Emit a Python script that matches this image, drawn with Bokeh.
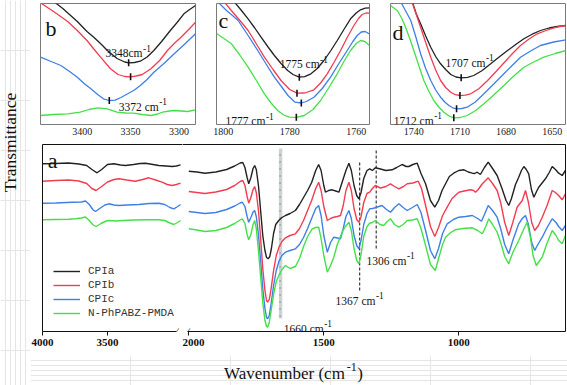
import math
from bokeh.plotting import figure
from bokeh.models import Range1d, FixedTicker, LinearAxis, Label, Legend, LegendItem
from bokeh.layouts import row, column
from bokeh.embed import file_html
from bokeh.resources import INLINE

SERIES = ["CPIa", "CPIb", "CPIc", "N-PhPABZ-PMDA"]
COLORS = ["#222222", "#f23c52", "#3f7fe6", "#45e048"]
FONT = "Liberation Serif"

# ---------------- panel a : left segment (4000-2940 cm-1) ----------------
aL_black = [(4000,166.7),(3900,167),(3800,167.5),(3720,166.5),(3660,165),(3620,161),(3580,157.7),(3545,161),(3500,166),(3452,166.7),(3400,165.5),(3362,165),(3300,166),(3250,167),(3208,167.3),(3150,166),(3105,165),(3050,164.5),(3003,164),(2970,164.5),(2938,165.7)]
aL_red = [(4000,149.3),(3900,150),(3800,150.5),(3720,149.5),(3660,147),(3620,142),(3588,140),(3550,143.5),(3500,148.5),(3450,151),(3413,151.7),(3350,150.5),(3285,149.3),(3230,151),(3182,152.7),(3130,150.5),(3080,148.3),(3040,146),(3003,145),(2970,146),(2938,147.3)]
aL_blue = [(4000,127.3),(3900,127.5),(3772,128.3),(3700,128.5),(3669,129.5),(3640,126),(3610,120.5),(3592,119),(3560,122),(3520,125.5),(3490,126.7),(3450,125.5),(3413,125),(3350,125.5),(3259,126),(3180,127),(3105,127.3),(3060,126),(3020,123),(2990,121.7),(2960,124),(2938,126)]
aL_green = [(4000,110.7),(3900,111),(3800,111.3),(3746,111.7),(3700,112.5),(3669,113.5),(3640,110),(3610,105.5),(3588,104),(3550,107),(3510,109.5),(3490,110),(3440,109.5),(3380,110),(3300,110.5),(3200,110.7),(3105,110.7),(3060,110),(3020,107.5),(2990,106),(2960,108),(2938,110)]

# ---------------- panel a : right segment (2000-600 cm-1) ----------------
aR_black = [(2000,159.3),(1970,158.5),(1940,157.3),(1900,158.5),(1860,161),(1830,164.5),(1810,167.5),(1800,168),(1792,163),(1784,153),(1778,146.7),(1770,153),(1762,162),(1756,165),(1750,161),(1742,145),(1734,120),(1726,95),(1718,80),(1712,73),(1706,71.7),(1700,74),(1694,82),(1686,97),(1678,106),(1667,110),(1655,113),(1642,115),(1625,117),(1605,120),(1590,126),(1575,133),(1560,140),(1545,148),(1530,160),(1519,166),(1510,160),(1500,145),(1494,138.3),(1482,140),(1469,140.7),(1456,139.5),(1444,138.3),(1430,150),(1418,160),(1407,167.3),(1398,160),(1388,145),(1378,135),(1370,131.7),(1362,138),(1352,152),(1340,160),(1330,161.7),(1320,160),(1309,162.7),(1290,161.5),(1270,160),(1247,160.7),(1230,163),(1210,166),(1195,164),(1185,164),(1170,166),(1154,167.3),(1140,157),(1123,146.7),(1105,130),(1089,123.3),(1075,130),(1062,140),(1049,146.7),(1035,154),(1019,157.3),(1000,160),(981,160.7),(965,158.5),(950,157.3),(941,157),(932,158.3),(920,156),(905,163),(891,168.3),(875,162),(858,155),(840,142),(825,130),(815,125),(805,132),(790,146),(778,153.3),(768,160),(759,164),(750,161),(741,156.7),(731,141),(722,133.3),(712,139),(704,143.3),(690,148),(679,151.7),(665,158),(654,164),(642,161),(630,157.3),(617,155),(605,160)]
aR_red = [(2000,139),(1970,138),(1940,137),(1900,138.5),(1860,141),(1830,145),(1810,149),(1800,150),(1792,145),(1784,134),(1778,127.3),(1770,133),(1762,141),(1756,144),(1750,138),(1742,120),(1734,92),(1726,62),(1718,40),(1712,30),(1708,28.3),(1702,31),(1695,42),(1686,60),(1676,75),(1665,84),(1655,89),(1642,92.7),(1625,95),(1605,96.7),(1590,102),(1575,110),(1560,120),(1545,130),(1530,142),(1519,148.3),(1510,140),(1500,124),(1487,110),(1475,112),(1463,113.3),(1450,114),(1438,115),(1428,125),(1418,140),(1407,148.3),(1398,140),(1388,122),(1378,111),(1370,108.3),(1362,114),(1352,128),(1340,137),(1330,138.3),(1320,142),(1309,145),(1290,142.5),(1270,144),(1253,146.7),(1238,144),(1222,141.7),(1205,144),(1191,146.7),(1170,147.5),(1150,149.3),(1138,142),(1123,125),(1105,104),(1089,94),(1075,103),(1060,115),(1043,123.3),(1025,132),(1000,138.3),(980,139.5),(957,140.7),(945,140),(938,138.3),(928,141),(915,146),(891,152.7),(875,147),(858,140),(845,128),(830,108),(815,95),(800,108),(784,123.3),(765,130),(753,140),(742,128),(730,108),(719,100),(705,105),(691,113.3),(673,125),(654,140),(642,138),(630,135),(617,130.7),(605,136.7)]
aR_blue = [(2000,119),(1970,118),(1940,117),(1900,118),(1860,121),(1830,124.5),(1810,127.5),(1802,128.3),(1792,124),(1784,114),(1778,108.3),(1770,113),(1762,118.5),(1756,120),(1750,114),(1742,96),(1734,70),(1726,42),(1718,22),(1712,13),(1708,11.7),(1702,15),(1695,27),(1686,45),(1676,60),(1665,70),(1655,75),(1642,78.3),(1625,80),(1605,81.7),(1590,86),(1575,93),(1560,102),(1545,112),(1530,122),(1519,125),(1510,115),(1500,95),(1487,78.3),(1475,88),(1463,93.3),(1450,92.5),(1438,91.7),(1428,102),(1418,114),(1407,120),(1398,112),(1388,95),(1378,85),(1370,81.7),(1362,90),(1352,106),(1340,117),(1330,121.7),(1320,122),(1309,122.7),(1296,124),(1284,125),(1268,121),(1253,118.3),(1238,123),(1222,126.7),(1206,123),(1191,120),(1172,123),(1154,126),(1140,118),(1123,100),(1105,80),(1089,71.7),(1075,82),(1060,97),(1043,106.7),(1020,111),(1000,113.3),(975,114),(950,115),(930,112),(916,109.3),(905,116),(891,125),(875,120),(858,113.3),(845,102),(830,86),(815,76.7),(800,90),(778,106.7),(765,112),(753,115),(742,106),(730,88),(719,80),(705,87),(691,93.3),(673,103),(654,111.7),(640,108),(630,104),(617,100),(605,105)]
aR_green = [(2000,101.7),(1970,100.5),(1940,99),(1900,100),(1860,103),(1830,107),(1810,110.5),(1802,111.7),(1792,107),(1784,96),(1778,90.7),(1770,96),(1762,106),(1756,110),(1750,102),(1742,80),(1734,54),(1726,28),(1718,10),(1712,4),(1708,3.3),(1702,8),(1695,20),(1686,36),(1676,49),(1665,56),(1655,61),(1642,65),(1625,62),(1605,64),(1590,72),(1575,84),(1560,94),(1543,101.7),(1530,103),(1519,103.3),(1510,92),(1500,75),(1487,58.3),(1475,65),(1463,73.3),(1450,86),(1432,98.3),(1420,104),(1407,108.3),(1398,100),(1388,82),(1378,70),(1370,66.7),(1362,76),(1352,94),(1340,104),(1330,107.3),(1320,108),(1309,110),(1292,106),(1278,105),(1265,109),(1253,111.7),(1238,106),(1222,103.3),(1206,106),(1191,110),(1172,110.5),(1154,111.7),(1140,102),(1123,85),(1105,66),(1087,60),(1075,72),(1060,86),(1049,93.3),(1030,98),(1013,100.7),(985,102),(950,102.7),(930,100),(913,96.7),(900,104),(889,111.7),(875,106),(858,98.3),(845,88),(830,74),(815,66.7),(800,78),(778,90),(760,101),(747,108.3),(735,93.3),(725,75),(713,65),(700,70),(691,73.3),(675,86),(654,100),(640,95),(630,90),(617,86.7),(605,95)]

# ---------------- inset b (N-H region) ----------------
b_black = [(3432,126),(3420,117),(3405,104),(3395,94),(3388,88.3),(3380,81),(3374,75),(3364,67),(3356,63.5),(3352,62.7),(3346,63),(3340,64.3),(3333,68.5),(3326,75),(3318,84),(3309,95),(3302,103),(3295,111.7),(3289,116),(3283,120)]
b_red = [(3442,122),(3428,113),(3415,104),(3405,95),(3395,85),(3388,76.5),(3381,68.3),(3371,57),(3363,51),(3356,49),(3350,48.7),(3344,49.5),(3338,51),(3329,56.7),(3320,65),(3312,75),(3305,82),(3298,88.3),(3290,96),(3283,103.3)]
b_blue = [(3443,68.3),(3432,64),(3422,60),(3413,54),(3405,48.3),(3398,42),(3391,36.7),(3384,31),(3378,26.7),(3372,25),(3366,25.3),(3360,28),(3353,31.7),(3346,35.5),(3340,40),(3333,46),(3326,53.3),(3315,62.5),(3305,71.7),(3294,81.5),(3283,91.7)]
b_green = [(3443,10),(3430,11),(3415,11.7),(3402,13.3),(3393,16),(3384,17.7),(3374,16.7),(3364,13.3),(3355,12.5),(3347,12.3),(3338,11),(3329,10),(3322,11.5),(3317,13.3),(3310,14.5),(3305,15),(3298,14.5),(3291,14),(3283,15.7)]

# ---------------- inset c (C=O asym.) ----------------
c_black = [(1798.5,128),(1796.5,122),(1794.5,114),(1792.5,105.7),(1790.5,96.5),(1788.6,87.3),(1786.6,78),(1784.6,69),(1782.6,61),(1780.6,54),(1779,50),(1777.1,47.3),(1775.5,47.8),(1773.6,50.7),(1771.7,56),(1769.7,64),(1767.7,73.5),(1765.7,84),(1763.7,95),(1761.7,105.7),(1760,111.5),(1758.7,114.7),(1757.3,116.3),(1756,116.7)]
c_red = [(1800.5,128),(1799.5,122),(1797.8,115),(1796,108),(1794.2,101),(1792.5,94),(1790,80.5),(1787.6,67.3),(1785,55),(1782.6,44),(1780,35),(1777.8,31.3),(1775.5,31.5),(1772.7,34.7),(1770.7,41.5),(1768.7,50.7),(1766.7,62),(1764.7,74),(1762.7,87),(1760.7,99),(1759.3,106),(1758.2,110),(1757,111.5),(1756,111.3)]
c_blue = [(1802,124),(1801.5,122.3),(1799,114),(1797.2,109),(1795.5,104),(1792.5,89),(1789.6,74),(1787,60),(1784.6,47.3),(1782.5,38),(1780.5,29),(1778.4,22.3),(1776.5,21.5),(1775,23),(1772.7,27.3),(1770.2,36),(1767.7,47.3),(1765.2,61),(1762.7,74),(1761,83),(1759.7,89),(1758.5,92.5),(1757.3,93),(1756,90.5)]
c_green = [(1802,91),(1800,86.5),(1797.5,80.7),(1795,69.5),(1792.5,57.3),(1790,44),(1787.6,30.7),(1785.6,21.5),(1783.6,14),(1781.8,9.5),(1780.1,7.3),(1778,7.2),(1775.6,9),(1773,15),(1770.7,24),(1768.2,37),(1765.7,50.7),(1763.7,63),(1761.7,74),(1760,81),(1758.7,84),(1757.4,83),(1756,79)]

# ---------------- inset d (C=O sym.) ----------------
d_black = [(1741.5,126),(1740,118),(1738.5,111),(1737,105.5),(1735.6,100.7),(1732.3,88.5),(1729,77.3),(1725.8,68),(1722.6,60.7),(1719.3,55),(1716,50),(1712.6,47.5),(1709.2,46.7),(1705,47.2),(1701,49),(1695.5,54),(1690,60.7),(1684.5,67.5),(1679,74),(1673.7,80),(1668.4,85.7),(1663,90.3),(1657.6,94),(1652,96.5),(1646.7,98),(1641,99)]
d_red = [(1741.5,124),(1740,117),(1738,108),(1735.6,97.3),(1732.3,82),(1729,67.3),(1725.8,54.5),(1722.6,44),(1719.3,37),(1716,32.3),(1713,29.8),(1710,29),(1706.5,29.3),(1703,30.7),(1697.5,36),(1692,44),(1686.5,53),(1681,62.3),(1675.8,71),(1670.6,79),(1665,85.5),(1659.7,90.7),(1654,94),(1648.8,96.7),(1645,98),(1641,99)]
d_blue = [(1749,124),(1745.5,114),(1742,104),(1738.8,88),(1735.6,70.7),(1732.3,56),(1729,44),(1725.8,34.5),(1722.6,27.3),(1719.9,22.5),(1717.2,19),(1714.7,16.7),(1712.2,15.7),(1708.8,16),(1705.3,17.3),(1700,22.5),(1694.4,30.7),(1688,40.5),(1681.4,50.7),(1676,59),(1670.6,67.3),(1664,73.5),(1657.6,79),(1649,82.5),(1641,84.7)]
d_green = [(1755.2,119),(1753,116.5),(1750.8,114),(1748,106.5),(1745.4,97.3),(1742.7,86),(1740,74),(1736.8,59),(1733.5,44),(1730.2,33),(1727,24),(1723.8,17.5),(1720.5,12.3),(1717.3,8.7),(1714,6.7),(1709.7,7),(1705.3,9),(1700,13.8),(1694.4,20.7),(1688,29.5),(1681.4,39),(1675,48.5),(1668.4,57.3),(1662,62.5),(1655.4,67.3),(1648,71),(1641,74)]

# tick labels
A_TICKS_LEFT = [4000, 3500]
A_TICKS_RIGHT = [2000, 1500, 1000]
B_TICKS = [3400, 3350, 3300]
C_TICKS = [1800, 1780, 1760]
D_TICKS = [1740, 1710, 1680, 1650]

# axis break positions (end of left segment axis, start of right segment axis)
BREAK_LEFT = 2968
BREAK_RIGHT = 2003

# marked bands in panel a
BAND_1660 = 1660
DASH_LINES = [(1367, 40, 170), (1306, 82, 180)]

# Times-like advance widths (em) for placing superscripts
TW = {" ": .25, "c": .444, "m": .778, "-": .333, "(": .333, ")": .333, "W": .944, "a": .444,
      "v": .5, "e": .444, "n": .5, "u": .5, "b": .5, "r": .333}


def tw(s):
    return sum(TW.get(ch, 0.5) for ch in s)


def sup_label(p, x, y, base, size, sup="-1", tail="", sup_size=None, rise=None):
    sup_size = sup_size or size * 0.82
    rise = size * 0.42 if rise is None else rise
    common = dict(text_font=FONT, text_color="#111111", text_align="left", text_baseline="alphabetic")
    p.add_layout(Label(x=x, y=y, text=base, text_font_size=f"{size}px", **common))
    off = tw(base) * size + 0.5
    p.add_layout(Label(x=x, y=y, x_offset=off, y_offset=rise, text=sup,
                       text_font_size=f"{sup_size}px", **common))
    if tail:
        p.add_layout(Label(x=x, y=y, x_offset=off + tw(sup) * sup_size + 0.5, text=tail,
                           text_font_size=f"{size}px", **common))


def border_axis():
    return LinearAxis(ticker=FixedTicker(ticks=[]), major_tick_in=0, major_tick_out=0,
                      minor_tick_in=0, minor_tick_out=0, major_label_standoff=0,
                      major_label_text_font_size="0px", axis_line_color="#111111",
                      axis_line_width=1)


def xy(pairs):
    return [a for a, _ in pairs], [b for _, b in pairs]


def min_tick(p, pairs, half=3.5):
    x, y = xy(pairs)
    i = min(range(len(y)), key=lambda k: y[k])
    p.segment(x0=[x[i]], y0=[y[i] - half], x1=[x[i]], y1=[y[i] + half],
              line_color="#111111", line_width=1.6)


def inset(xr, yr, ticks, w, mbl, mbr):
    p = figure(width=w, height=143, x_range=Range1d(*xr), y_range=Range1d(*yr),
               output_backend="svg", toolbar_location=None, y_axis_location=None,
               min_border_left=mbl, min_border_right=mbr, min_border_top=3, min_border_bottom=19,
               outline_line_color="#7a7a7a", outline_line_width=1)
    p.grid.visible = False
    ax = p.below[0]
    ax.ticker = FixedTicker(ticks=ticks)
    ax.axis_line_color = None
    ax.major_tick_out = 0
    ax.major_tick_in = 0
    ax.minor_tick_out = 0
    ax.minor_tick_in = 0
    ax.major_label_standoff = 3
    ax.major_label_text_font = FONT
    ax.major_label_text_font_size = "10px"
    ax.major_label_text_color = "#222222"
    return p


# ---------------- insets ----------------
pb = inset((3443, 3283), (1, 122), B_TICKS, 175, 10, 10)
for s, c in zip([b_black, b_red, b_blue, b_green], COLORS):
    x, y = xy(s)
    pb.line(x, y, line_color=c, line_width=1.3)
for s in [b_black, b_red, b_blue]:
    min_tick(pb, s)
pb.add_layout(Label(x=3437.8, y=97, text="b", text_font=FONT, text_font_size="22px",
                    text_color="#111111", text_baseline="alphabetic"))
sup_label(pb, 3375.9, 72.5, "3348cm", 11.5)
sup_label(pb, 3362.2, 19, "3372 cm", 11.5)

pc = inset((1802, 1756), (0, 121), C_TICKS, 174, 11, 10)
for s, c in zip([c_black, c_red, c_blue, c_green], COLORS):
    x, y = xy(s)
    pc.line(x, y, line_color=c, line_width=1.3)
for s in [c_black, c_red, c_blue, c_green]:
    min_tick(pc, s)
pc.add_layout(Label(x=1801.4, y=104, text="c", text_font=FONT, text_font_size="22px",
                    text_color="#111111", text_baseline="alphabetic"))
sup_label(pc, 1783.0, 60.5, "1775 cm", 11.5)
sup_label(pc, 1799.3, 3.3, "1777 cm", 11.5)

pd = inset((1755.2, 1641.3), (0, 121), D_TICKS, 188, 11, 2)
for s, c in zip([d_black, d_red, d_blue, d_green], COLORS):
    x, y = xy(s)
    pd.line(x, y, line_color=c, line_width=1.3)
for s in [d_black, d_red, d_blue, d_green]:
    min_tick(pd, s)
pd.add_layout(Label(x=1753.9, y=92, text="d", text_font=FONT, text_font_size="22px",
                    text_color="#111111", text_baseline="alphabetic"))
sup_label(pd, 1719.4, 61.7, "1707 cm", 11.5)
sup_label(pd, 1753.1, 4, "1712 cm", 11.5)


# ---------------- main panel a ----------------
def main_axis(ax, ticks, bounds):
    ax.ticker = FixedTicker(ticks=ticks)
    ax.bounds = bounds
    ax.axis_line_color = "#111111"
    ax.major_tick_out = 4
    ax.major_tick_in = 0
    ax.minor_tick_out = 0
    ax.minor_tick_in = 0
    ax.major_tick_line_color = "#111111"
    ax.major_label_standoff = 3
    ax.major_label_text_font = FONT
    ax.major_label_text_font_size = "11px"
    ax.major_label_text_font_style = "bold"
    ax.major_label_text_color = "#111111"


def break_mark(p, x):
    p.add_layout(Label(x=x, y=-1, text="|", angle=-0.62, text_align="center",
                       text_baseline="middle", text_font=FONT, text_font_size="11px",
                       text_color="#111111"))


MAIN_H = 212
pl = figure(width=152, height=MAIN_H, x_range=Range1d(4000, 2923), y_range=Range1d(-1, 186),
            output_backend="svg", toolbar_location=None, y_axis_location=None,
            min_border_left=12, min_border_right=0, min_border_top=1, min_border_bottom=24,
            outline_line_color=None)
pl.grid.visible = False
main_axis(pl.below[0], A_TICKS_LEFT, (BREAK_LEFT, 4000))
pl.add_layout(border_axis(), "left")
pl.add_layout(border_axis(), "above")

left_renderers = []
for s, c in zip([aL_black, aL_red, aL_blue, aL_green], COLORS):
    x, y = xy(s)
    left_renderers.append(pl.line(x, y, line_color=c, line_width=1.4))

pl.add_layout(Label(x=3959, y=170, text="a", text_font=FONT, text_font_size="22px",
                    text_color="#111111", text_baseline="alphabetic"))
break_mark(pl, BREAK_LEFT)

legend = Legend(items=[LegendItem(label=s, renderers=[r]) for s, r in zip(SERIES, left_renderers)],
                location=(11, 11), glyph_width=27, glyph_height=14, label_height=14,
                label_standoff=8, spacing=0, padding=0, margin=0, border_line_color=None,
                background_fill_alpha=0, label_text_font="Liberation Mono",
                label_text_font_size="11px", label_text_color="#333333")
pl.add_layout(legend)

pr = figure(width=385, height=MAIN_H, x_range=Range1d(2023.3, 604.8), y_range=Range1d(-1, 186),
            output_backend="svg", toolbar_location=None, y_axis_location=None,
            min_border_left=0, min_border_right=2, min_border_top=1, min_border_bottom=24,
            outline_line_color=None)
pr.grid.visible = False
main_axis(pr.below[0], A_TICKS_RIGHT, (604.8, BREAK_RIGHT))
pr.add_layout(border_axis(), "right")
pr.add_layout(border_axis(), "above")

pr.quad(left=[BAND_1660 + 6.3], right=[BAND_1660 - 6.3], bottom=[12], top=[182],
        fill_color="#cdd3d3", line_color=None)
pr.segment(x0=[BAND_1660 + 2], y0=[14], x1=[BAND_1660 + 2], y1=[182],
           line_color="#555555", line_width=1, line_dash="1 6")
for wn, y0, y1 in DASH_LINES:
    pr.segment(x0=[wn], y0=[y0], x1=[wn], y1=[y1], line_color="#111111",
               line_width=1, line_dash="3 2")

for s, c in zip([aR_black, aR_red, aR_blue, aR_green], COLORS):
    x, y = xy(s)
    pr.line(x, y, line_color=c, line_width=1.4)

break_mark(pr, BREAK_RIGHT)
sup_label(pr, 1648.1, 1.7, "1660 cm", 11.5)
sup_label(pr, 1456.6, 30, "1367 cm", 11.5)
sup_label(pr, 1341.8, 70, "1306 cm", 11.5)

# ---------------- axis titles ----------------
ylab = figure(width=30, height=385, x_range=Range1d(0, 30), y_range=Range1d(385, 0),
              output_backend="svg", toolbar_location=None, x_axis_location=None,
              y_axis_location=None, outline_line_color=None, min_border=0,
              min_border_left=0, min_border_right=0, min_border_top=0, min_border_bottom=0)
ylab.add_layout(Label(x=9, y=142, text="Transmittance", angle=math.pi / 2, text_align="center",
                      text_baseline="middle", text_font=FONT, text_font_size="17.5px",
                      text_color="#111111"))

XLAB_H = 385 - 143 - MAIN_H
xlab = figure(width=537, height=XLAB_H, x_range=Range1d(0, 537), y_range=Range1d(XLAB_H, 0),
              output_backend="svg", toolbar_location=None, x_axis_location=None,
              y_axis_location=None, outline_line_color=None, min_border=0,
              min_border_left=0, min_border_right=0, min_border_top=0, min_border_bottom=0)
sup_label(xlab, 193.5, XLAB_H - 12, "Wavenumber (cm", 17, sup="-1", tail=")", sup_size=12, rise=7)

layout = row(ylab, column(row(pb, pc, pd), row(pl, pr), xlab))

open("out.html", "w").write(file_html(layout, INLINE))
